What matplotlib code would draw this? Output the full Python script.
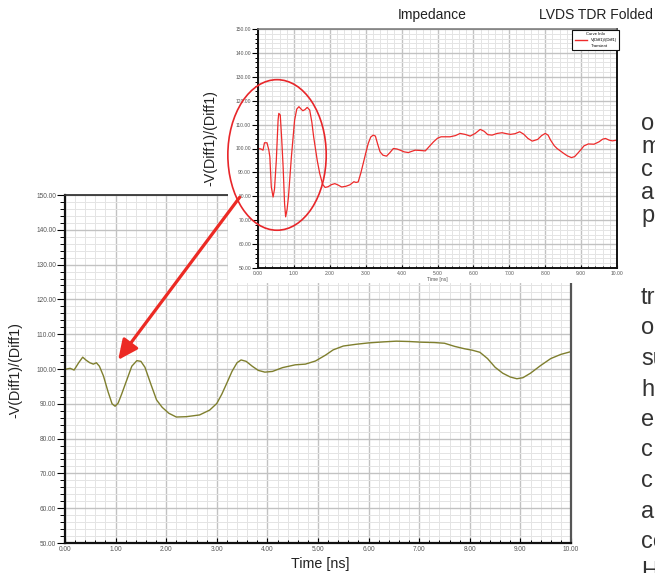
import matplotlib
matplotlib.use('Agg')
import matplotlib.pyplot as plt
from matplotlib.ticker import MultipleLocator, FormatStrFormatter
from matplotlib.patches import Rectangle, Ellipse, ConnectionPatch
from matplotlib.lines import Line2D

plt.rcParams['font.family'] = ['Liberation Sans', 'DejaVu Sans']
NARROW = ['Liberation Sans Narrow', 'Liberation Sans', 'DejaVu Sans']

# ---- data: zoomed (bottom) TDR trace, olive ----
bottom_t = [0.00, 0.10, 0.18, 0.27, 0.35, 0.42, 0.49, 0.56, 0.62, 0.68, 0.76, 0.85,
            0.93, 0.99, 1.05, 1.12, 1.22, 1.32, 1.42, 1.50, 1.58, 1.70, 1.81, 1.92,
            2.05, 2.20, 2.40, 2.66, 2.86, 3.00, 3.10, 3.20, 3.30, 3.40, 3.48, 3.58,
            3.70, 3.82, 3.95, 4.10, 4.30, 4.55, 4.75, 4.95, 5.15, 5.30, 5.50, 5.75,
            6.00, 6.30, 6.55, 6.80, 7.05, 7.30, 7.50, 7.70, 7.90, 8.05, 8.20, 8.35,
            8.50, 8.65, 8.80, 8.93, 9.05, 9.20, 9.40, 9.60, 9.80, 10.00]
bottom_z = [99.9, 100.2, 99.7, 101.8, 103.4, 102.5, 101.8, 101.4, 101.8, 100.8, 98.0, 93.5,
            90.0, 89.3, 90.2, 92.8, 96.8, 100.8, 102.4, 102.2, 100.5, 95.5, 91.1, 89.0,
            87.3, 86.2, 86.3, 86.8, 88.2, 90.1, 92.8, 96.0, 99.3, 101.8, 102.6, 102.2,
            100.8, 99.6, 99.1, 99.3, 100.4, 101.2, 101.4, 102.3, 104.0, 105.5, 106.6, 107.1,
            107.5, 107.8, 108.0, 107.9, 107.7, 107.6, 107.4, 106.5, 105.8, 105.4, 104.8, 103.0,
            100.5, 98.8, 97.7, 97.2, 97.5, 98.8, 101.0, 103.0, 104.2, 105.0]

# ---- data: original (top) TDR trace, red ----
top_t = [0.00, 0.08, 0.14, 0.18, 0.25, 0.30, 0.33, 0.37, 0.42, 0.46, 0.51, 0.56,
         0.58, 0.62, 0.66, 0.70, 0.74, 0.77, 0.81, 0.85, 0.93, 1.02, 1.08, 1.14,
         1.20, 1.25, 1.31, 1.37, 1.44, 1.50, 1.55, 1.65, 1.72, 1.80, 1.87, 1.95,
         2.05, 2.14, 2.22, 2.33, 2.45, 2.56, 2.62, 2.67, 2.73, 2.79, 2.86, 2.93,
         3.00, 3.07, 3.14, 3.21, 3.27, 3.33, 3.40, 3.48, 3.58, 3.67, 3.77, 3.87,
         3.96, 4.07, 4.19, 4.28, 4.38, 4.50, 4.66, 4.78, 4.89, 5.00, 5.10, 5.35,
         5.50, 5.63, 5.77, 5.91, 6.05, 6.19, 6.30, 6.40, 6.52, 6.66, 6.80, 6.92,
         7.03, 7.16, 7.29, 7.40, 7.52, 7.64, 7.79, 7.90, 8.00, 8.08, 8.15, 8.25,
         8.33, 8.43, 8.52, 8.62, 8.73, 8.82, 8.90, 9.00, 9.08, 9.20, 9.36, 9.50,
         9.60, 9.68, 9.78, 9.87, 10.00]
top_z = [100.0, 99.8, 99.3, 102.4, 102.4, 99.5, 96.5, 84.0, 79.7, 83.0, 95.1, 112.0,
         114.7, 114.0, 104.0, 92.3, 77.0, 71.4, 74.5, 80.0, 96.5, 111.9, 116.5, 117.5,
         116.5, 115.8, 116.3, 117.2, 116.1, 111.0, 104.9, 95.0, 89.5, 85.0, 83.7, 84.0,
         84.9, 85.3, 84.8, 83.9, 84.2, 84.8, 85.5, 86.1, 85.8, 86.0, 89.5, 93.7,
         98.0, 102.1, 104.8, 105.6, 105.2, 102.0, 98.6, 97.2, 96.8, 98.2, 100.0, 99.8,
         99.3, 98.6, 98.3, 98.8, 99.3, 99.2, 99.0, 101.0, 102.8, 104.3, 104.9, 104.9,
         105.4, 106.3, 105.9, 105.2, 106.3, 108.0, 107.2, 105.8, 105.6, 106.3, 106.6, 106.2,
         105.9, 106.2, 107.0, 106.0, 104.2, 103.1, 103.8, 105.4, 106.3, 105.6, 103.5, 101.2,
         100.0, 98.9, 97.9, 96.9, 96.2, 96.6, 97.9, 99.6, 101.1, 101.9, 101.8, 102.8,
         103.9, 104.2, 103.5, 103.2, 103.5]

y_label = '-V(Diff1)/(Diff1)'
x_label = 'Time [ns]'
title_left = 'Impedance'
title_right = 'LVDS TDR Folded'
legend_title = 'Curve Info'
legend_curve = 'V(Diff1)/(Diff1)'
legend_sub = 'Transient'
# text column cut off at the right edge of the page
words_top = ['o', 'm', 'c', 'a', 'p']
words_bottom = ['tr', 'o', 'su', 'h', 'e', 'c', 'c', 'ac', 'co', 'H']

W, H = 655, 573


def box(l, t, r, b):
    # pixel box -> figure fraction [left, bottom, width, height]
    return [l / W, 1 - b / H, (r - l) / W, (b - t) / H]


def style(ax, lab_size, maj_len, min_len, lw_spine):
    ax.set_xlim(0, 10)
    ax.set_ylim(50, 150)
    ax.xaxis.set_major_locator(MultipleLocator(1))
    ax.xaxis.set_minor_locator(MultipleLocator(0.2))
    ax.yaxis.set_major_locator(MultipleLocator(10))
    ax.yaxis.set_minor_locator(MultipleLocator(2))
    ax.xaxis.set_major_formatter(FormatStrFormatter('%.2f'))
    ax.yaxis.set_major_formatter(FormatStrFormatter('%.2f'))
    ax.grid(which='major', color='#c2c2c2', lw=1.0)
    ax.grid(which='minor', color='#e4e4e4', lw=0.7)
    ax.set_axisbelow(True)
    ax.tick_params(axis='y', which='major', direction='out', length=maj_len, width=0.8,
                   labelsize=lab_size, labelcolor='#555555', pad=1)
    ax.tick_params(axis='y', which='minor', direction='out', length=min_len, width=0.7)
    ax.tick_params(axis='x', which='major', direction='in', length=maj_len * 0.6, width=0.8,
                   labelsize=lab_size, labelcolor='#555555', pad=2.5)
    ax.tick_params(axis='x', which='minor', direction='in', length=min_len * 0.7, width=0.7)
    for s in ['left', 'bottom']:
        ax.spines[s].set_linewidth(lw_spine)
        ax.spines[s].set_color('#111111')
    ax.spines['top'].set_linewidth(lw_spine * 0.8)
    ax.spines['top'].set_color('#333333')
    ax.spines['right'].set_linewidth(lw_spine)
    ax.spines['right'].set_color('#555555')


fig = plt.figure(figsize=(W / 100, H / 100), dpi=100)

# zoomed view (bottom)
ax_b = fig.add_axes(box(65, 195, 571, 543), zorder=1)
style(ax_b, 4.7, 5.5, 3.5, 1.6)
ax_b.plot(bottom_t, bottom_z, color='#7f7f2e', lw=1.0)
fig.text(15 / W, 1 - 370 / H, y_label, rotation=90, ha='center', va='center',
         fontsize=10.3, color='#222222', family=NARROW)
fig.text(320 / W, 1 - 564 / H, x_label, ha='center', va='center',
         fontsize=10.3, color='#222222', family=NARROW)

# white screenshot of the full trace pasted on top
fig.add_artist(Rectangle((228 / W, 1 - 283 / H), 402 / W, 283 / H,
                         transform=fig.transFigure, facecolor='white',
                         edgecolor='none', zorder=2))

ax_t = fig.add_axes(box(258, 29, 617, 268), zorder=3)
style(ax_t, 3.6, 4.0, 2.5, 1.4)
ax_t.spines['top'].set_color('#777777')
ax_t.spines['right'].set_color('#111111')
ax_t.plot(top_t, top_z, color='#ee2a2a', lw=0.9)
ax_t.set_xlabel(x_label, fontsize=3.6, color='#555555', labelpad=0.5)
leg = ax_t.legend([Line2D([], [], color='#ee2a2a', lw=1), Line2D([], [], ls='none')],
                  [legend_curve, legend_sub], title=legend_title,
                  loc='upper right', bbox_to_anchor=(1.012, 1.005),
                  fontsize=3, title_fontsize=3, frameon=True, fancybox=False,
                  framealpha=1, edgecolor='#111111', borderpad=0.6,
                  handlelength=3, labelspacing=0.4)
leg.get_frame().set_linewidth(0.8)

fig.text(210 / W, 1 - 138 / H, y_label, rotation=90, ha='center', va='center',
         fontsize=10.3, color='#222222', family=NARROW, zorder=4)
fig.text(432 / W, 1 - 15 / H, title_left, ha='center', va='center',
         fontsize=10, color='#222222', family=NARROW, zorder=4)
fig.text(653 / W, 1 - 15 / H, title_right, ha='right', va='center',
         fontsize=10, color='#222222', family=NARROW, zorder=4)

# red ellipse around the discontinuities in the full trace
ax_t.add_patch(Ellipse((0.53, 97.3), 2.74, 63, fill=False, edgecolor='#e8262a',
                       lw=1.2, clip_on=False, zorder=5))

# arrow from the ellipse to the zoomed view
arrow = ConnectionPatch(xyA=(-0.51, 79.6), coordsA=ax_t.transData,
                        xyB=(1.05, 102.6), coordsB=ax_b.transData,
                        arrowstyle='-|>,head_length=0.6,head_width=0.28',
                        mutation_scale=20, color='#ec2a24', lw=2.3,
                        shrinkA=0, shrinkB=0, zorder=6)
fig.add_artist(arrow)

# body text cut by the page edge
for i, w in enumerate(words_top):
    fig.text(641 / W, 1 - (130 + 23 * i) / H, w, ha='left', va='baseline',
             fontsize=17, color='#333333')
for i, w in enumerate(words_bottom):
    fig.text(641 / W, 1 - (304 + 30.5 * i) / H, w, ha='left', va='baseline',
             fontsize=17, color='#333333')

fig.savefig('out.png', dpi=100)
